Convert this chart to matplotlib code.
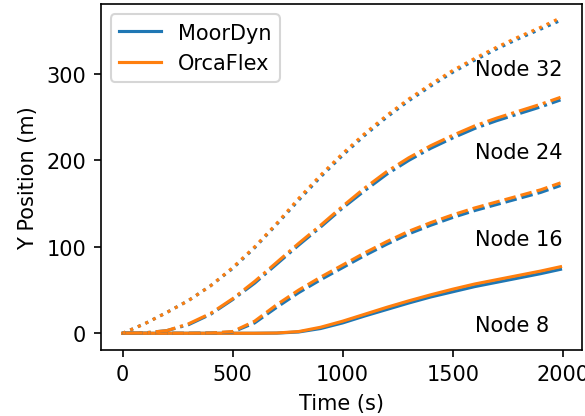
import matplotlib
matplotlib.use("Agg")
import matplotlib.pyplot as plt

# time samples (s)
time = [0, 100, 200, 300, 400, 500, 600, 700, 800, 900, 1000,
        1100, 1200, 1300, 1400, 1500, 1600, 1700, 1800, 1900, 1990]

# OrcaFlex Y positions (m)
orca_n8 = [0, 0, 0, 0, 0, 0, 0, 0.3, 2, 7, 14,
           22, 30, 37.5, 44.5, 51, 57, 62, 67, 72, 77]
orca_n16 = [0, 0, 0, 0, 0.3, 2, 14, 33, 50, 65, 79,
            93, 106, 118, 128, 137, 145, 152, 159, 166, 174]
orca_n24 = [0, 0.5, 3, 11, 23, 40, 60, 82, 104, 125, 147,
            168, 187, 203, 217, 229, 240, 249, 257, 265, 273]
orca_n32 = [0, 11, 24, 38, 55, 76, 100, 127, 156, 183, 208,
            231, 252, 271, 288, 304, 318, 331, 343, 354, 365]

# MoorDyn Y positions (m)
moor_n8 = [0, 0, 0, 0, 0, 0, 0, 0.2, 1.5, 5.5, 12,
           20, 27.5, 35, 42, 48, 54, 59, 64, 69, 74]
moor_n16 = [0, 0, 0, 0, 0.3, 1.5, 12, 30, 47, 62, 76,
            90, 103, 115, 125, 134, 142, 149, 156, 163, 171]
moor_n24 = [0, 0.5, 3, 10, 22, 39, 58, 80, 102, 123, 145,
            165, 184, 200, 214, 226, 237, 246, 254, 262, 270]
moor_n32 = [0, 11, 24, 38, 55, 75, 99, 126, 154, 181, 206,
            229, 250, 269, 286, 302, 316, 329, 341, 352, 362]

node_labels = ["Node 8", "Node 16", "Node 24", "Node 32"]
label_y = [10, 109, 210, 306]

fig = plt.figure(figsize=(585 / 150, 417 / 150), dpi=150)
ax = fig.add_subplot(111)
fig.subplots_adjust(left=0.172, right=0.995, bottom=0.159, top=0.988)

blue = "#1f77b4"
orange = "#ff7f0e"
moor = [moor_n8, moor_n16, moor_n24, moor_n32]
orca = [orca_n8, orca_n16, orca_n24, orca_n32]
styles = ["-", "--", "-.", ":"]

for i in range(4):
    ax.plot(time, moor[i], linestyle=styles[i], color=blue,
            label="MoorDyn" if i == 0 else None)
    ax.plot(time, orca[i], linestyle=styles[i], color=orange,
            label="OrcaFlex" if i == 0 else None)

for lab, y in zip(node_labels, label_y):
    ax.text(1600, y, lab, ha="left", va="center")

ax.set_xlim(-100, 2088)
ax.set_ylim(-19, 381)
ax.set_xticks([0, 500, 1000, 1500, 2000])
ax.set_yticks([0, 100, 200, 300])
ax.set_xlabel("Time (s)")
ax.set_ylabel("Y Position (m)")
ax.legend(loc="upper left")

fig.savefig("out.png", dpi=150)
